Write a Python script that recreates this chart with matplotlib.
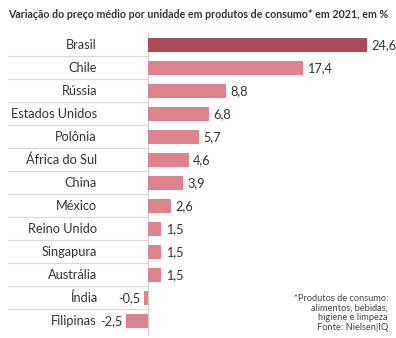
import matplotlib
matplotlib.use('Agg')
import matplotlib.pyplot as plt
from matplotlib.transforms import blended_transform_factory

plt.rcParams['font.family'] = ['Lato', 'DejaVu Sans']

paises = ['Brasil', 'Chile', 'Rússia', 'Estados Unidos', 'Polônia', 'África do Sul',
          'China', 'México', 'Reino Unido', 'Singapura', 'Austrália', 'Índia', 'Filipinas']
valores = [24.6, 17.4, 8.8, 6.8, 5.7, 4.6, 3.9, 2.6, 1.5, 1.5, 1.5, -0.5, -2.5]
titulo = 'Variação do preço médio por unidade em produtos de consumo* em 2021, em %'
nota = '*Produtos de consumo:\nalimentos, bebidas,\nhigiene e limpeza\nFonte: Nielsen|IQ'

W, H = 396, 338
fig = plt.figure(figsize=(W / 100, H / 100), dpi=100)
ax = fig.add_axes([0, 0, 1, 1])
ax.axis('off')

# escala: zero em x=148px, 8.9 px por ponto; linhas a cada 23px, primeira em y=45px
x0, k = 148, 8.9
ax.set_xlim(-x0 / k, (W - x0) / k)
ax.set_ylim((H - 45) / 23, -45 / 23)

cores = ['#a94b58'] + ['#dd838e'] * (len(valores) - 1)
ax.barh(range(len(paises)), valores, height=0.65, color=cores, zorder=2)

tf = blended_transform_factory(fig.transFigure, ax.transData)
for i, (p, v) in enumerate(zip(paises, valores)):
    ax.text(97 / W, i, p, transform=tf, ha='right', va='center', fontsize=9.2, color='#333333')
    txt = f'{v:.1f}'.replace('.', ',')
    if v >= 0:
        ax.text(v + 0.5, i, txt, ha='left', va='center', fontsize=9.2, color='#333333')
    else:
        ax.text(v - 0.4, i, txt, ha='right', va='center', fontsize=9.2, color='#333333')

for i in range(len(paises) - 1):
    ax.plot([8 / W, x0 / W], [i + 0.5, i + 0.5], transform=tf, color='#d8d8d8', lw=0.8, zorder=1)
ax.plot([0, 0], [-0.52, 12.6], color='#d0d0d0', lw=0.8, zorder=1)

fig.text(8 / W, 1 - 14 / H, titulo, ha='left', va='center', fontsize=7.65,
         fontweight='bold', color='#333333')
fig.text(388 / W, 1 - 313 / H, nota, ha='right', va='center', fontsize=6.7,
         color='#444444', linespacing=1.1, multialignment='right')

fig.savefig('out.png', dpi=100)
